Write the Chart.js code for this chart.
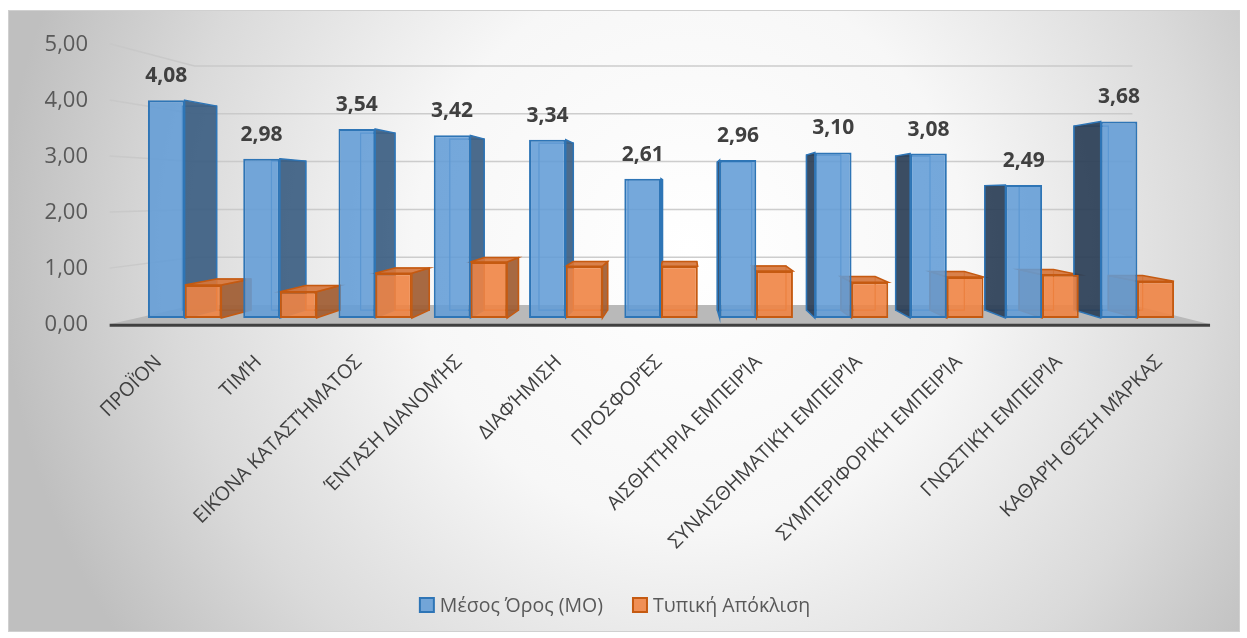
<!DOCTYPE html>
<html>
<head>
<meta charset="utf-8">
<script src="https://cdn.jsdelivr.net/npm/chart.js@4/dist/chart.umd.min.js"></script>
<style>
  html, body { margin: 0; padding: 0; background: #fff; }
  canvas { display: block; }
</style>
</head>
<body>
<canvas id="myChart" width="1247" height="638"></canvas>
<script>
// data
const categories = ['ΠΡΟΪΌΝ', 'ΤΙΜΉ', 'ΕΙΚΌΝΑ ΚΑΤΑΣΤΉΜΑΤΟΣ', 'ΈΝΤΑΣΗ ΔΙΑΝΟΜΉΣ', 'ΔΙΑΦΉΜΙΣΗ', 'ΠΡΟΣΦΟΡΈΣ',
  'ΑΙΣΘΗΤΉΡΙΑ ΕΜΠΕΙΡΊΑ', 'ΣΥΝΑΙΣΘΗΜΑΤΙΚΉ ΕΜΠΕΙΡΊΑ', 'ΣΥΜΠΕΡΙΦΟΡΙΚΉ ΕΜΠΕΙΡΊΑ', 'ΓΝΩΣΤΙΚΉ ΕΜΠΕΙΡΊΑ', 'ΚΑΘΑΡΉ ΘΈΣΗ ΜΆΡΚΑΣ'];
const meanValues = [4.08, 2.98, 3.54, 3.42, 3.34, 2.61, 2.96, 3.10, 3.08, 2.49, 3.68];
const sdValues = [0.62, 0.49, 0.84, 1.05, 0.97, 0.97, 0.88, 0.67, 0.77, 0.81, 0.69];
const seriesNames = ['Μέσος Όρος (ΜΟ)', 'Τυπική Απόκλιση'];
const yTicks = [0, 1, 2, 3, 4, 5];

const FONT = "'Open Sans', 'Noto Sans', sans-serif";
const fmt = v => v.toFixed(2).replace('.', ',');

// fake perspective, vanishing point + depth scales
const VP = { x: 684, y: 194 };
const S_BACK = 0.936;   // back of the bars
const S_WALL = 0.895;   // back wall
const S_FRONT = 1.05;   // front edge of floor / labels
const proj = (x, y, s) => [VP.x + (x - VP.x) * s, VP.y + (y - VP.y) * s];

const styles = [
  { front: 'rgba(98,156,214,0.88)', border: '#2e75b6', sideR: 'rgba(60,94,130,0.92)', sideL: 'rgba(42,62,86,0.92)', top: 'rgba(80,130,185,0.9)' },
  { front: 'rgba(240,132,68,0.9)', border: '#c55a11', sideR: 'rgba(160,92,50,0.92)', sideL: 'rgba(150,85,45,0.7)', top: 'rgba(214,118,60,0.92)' }
];

function poly(ctx, pts, fill, stroke, lw) {
  ctx.beginPath();
  ctx.moveTo(pts[0][0], pts[0][1]);
  for (let k = 1; k < pts.length; k++) ctx.lineTo(pts[k][0], pts[k][1]);
  ctx.closePath();
  if (fill) { ctx.fillStyle = fill; ctx.fill(); }
  if (stroke) { ctx.strokeStyle = stroke; ctx.lineWidth = lw || 1; ctx.stroke(); }
}

const box3d = {
  id: 'box3d',
  beforeDraw(chart) {
    const ctx = chart.ctx;
    const xs = chart.scales.x, ys = chart.scales.y;
    ctx.save();
    // background
    ctx.fillStyle = '#fff';
    ctx.fillRect(0, 0, chart.width, chart.height);
    const g = ctx.createRadialGradient(690, 250, 0, 690, 250, 690);
    g.addColorStop(0, '#ffffff');
    g.addColorStop(0.4, '#f7f7f7');
    g.addColorStop(0.75, '#dadada');
    g.addColorStop(1, '#bfbfbf');
    ctx.fillStyle = g;
    ctx.fillRect(8, 10, 1232, 622);
    ctx.strokeStyle = '#d0d0d0';
    ctx.lineWidth = 1;
    ctx.strokeRect(8.5, 10.5, 1231, 621);

    const L = xs.left, R = xs.right;
    // floor
    const base = ys.getPixelForValue(0);
    const fl = proj(L, base, S_FRONT), fr = proj(R, base, S_FRONT);
    const bl = proj(L, base, S_WALL), br = proj(R, base, S_WALL);
    poly(ctx, [fl, fr, br, bl], '#b9b9b9');
    ctx.beginPath();
    ctx.moveTo(fl[0], fl[1] + 1);
    ctx.lineTo(fr[0], fr[1] + 1);
    ctx.strokeStyle = '#404040';
    ctx.lineWidth = 3;
    ctx.stroke();

    // grid lines on side wall + back wall
    ctx.strokeStyle = 'rgba(200,200,200,0.9)';
    ctx.lineWidth = 1.5;
    yTicks.forEach(v => {
      if (v === 0) return;
      const py = ys.getPixelForValue(v);
      const a = proj(L, py, S_FRONT), b = proj(L, py, S_WALL), c = proj(R, py, S_WALL);
      ctx.beginPath();
      ctx.moveTo(a[0], a[1]);
      ctx.lineTo(b[0], b[1]);
      ctx.lineTo(c[0], c[1]);
      ctx.stroke();
    });

    // y tick labels
    ctx.fillStyle = '#595959';
    ctx.font = '22px ' + FONT;
    ctx.textAlign = 'right';
    ctx.textBaseline = 'middle';
    yTicks.forEach(v => {
      const p = proj(L, ys.getPixelForValue(v), S_FRONT);
      ctx.fillText(fmt(v), 88, p[1] + 1);
    });
    ctx.restore();
  },
  beforeDatasetsDraw(chart) {
    const ctx = chart.ctx;
    ctx.save();
    for (let i = 0; i < categories.length; i++) {
      for (let d = 0; d < 2; d++) {
        const bar = chart.getDatasetMeta(d).data[i];
        const st = styles[d];
        const l = bar.x - bar.width / 2, r = bar.x + bar.width / 2;
        const t = bar.y, b = bar.base;
        const lt = proj(l, t, S_BACK), rt = proj(r, t, S_BACK), lb = proj(l, b, S_BACK), rb = proj(r, b, S_BACK);
        // back edges, seen through the glass front
        poly(ctx, [lt, rt, rb, lb], null, st.border, 1.2);
        if (r < VP.x - 1) poly(ctx, [[r, t], rt, rb, [r, b]], st.sideR, st.border, 1.5);
        if (l > VP.x + 1) poly(ctx, [[l, t], lt, lb, [l, b]], st.sideL, st.border, 1.5);
        if (t > VP.y) poly(ctx, [[l, t], [r, t], rt, lt], st.top, st.border, 1.5);
      }
    }
    ctx.restore();
  },
  afterDatasetsDraw(chart) {
    const ctx = chart.ctx;
    const xs = chart.scales.x;
    ctx.save();
    // value labels on the mean bars
    ctx.fillStyle = '#404040';
    ctx.font = 'bold 21px ' + FONT;
    ctx.textAlign = 'center';
    ctx.textBaseline = 'middle';
    chart.getDatasetMeta(0).data.forEach((bar, i) => {
      ctx.fillText(fmt(meanValues[i]), bar.x, bar.y - 24);
    });

    // category labels, rotated
    ctx.fillStyle = '#404040';
    ctx.font = '19.5px ' + FONT;
    ctx.textAlign = 'right';
    ctx.textBaseline = 'middle';
    categories.forEach((c, i) => {
      const p = proj(xs.getPixelForValue(i), 318, S_FRONT);
      ctx.save();
      ctx.translate(p[0] - 1, 359);
      ctx.rotate(-Math.PI / 4);
      ctx.fillText(c, 0, 0);
      ctx.restore();
    });

    // legend
    ctx.font = '19.5px ' + FONT;
    const box = 14, gapTxt = 6, gapItem = 30;
    const widths = seriesNames.map(n => box + gapTxt + ctx.measureText(n).width);
    const total = widths[0] + gapItem + widths[1];
    let x = 615 - total / 2;
    const cy = 605;
    seriesNames.forEach((n, d) => {
      ctx.fillStyle = styles[d].front;
      ctx.fillRect(x, cy - box / 2, box, box);
      ctx.strokeStyle = styles[d].border;
      ctx.lineWidth = 2;
      ctx.strokeRect(x, cy - box / 2, box, box);
      ctx.fillStyle = '#595959';
      ctx.textAlign = 'left';
      ctx.fillText(n, x + box + gapTxt, cy + 1);
      x += widths[d] + gapItem;
    });
    ctx.restore();
  }
};

const ctx = document.getElementById('myChart').getContext('2d');
const myChart = new Chart(ctx, {
  type: 'bar',
  data: {
    labels: categories,
    datasets: [
      {
        label: seriesNames[0],
        data: meanValues,
        backgroundColor: styles[0].front,
        borderColor: styles[0].border,
        borderWidth: 2,
        borderSkipped: false,
        categoryPercentage: 0.77,
        barPercentage: 1.0
      },
      {
        label: seriesNames[1],
        data: sdValues,
        backgroundColor: styles[1].front,
        borderColor: styles[1].border,
        borderWidth: 2,
        borderSkipped: false,
        categoryPercentage: 0.77,
        barPercentage: 1.0
      }
    ]
  },
  options: {
    responsive: false,
    animation: false,
    devicePixelRatio: 1,
    layout: { padding: { left: 137, right: 62, top: 51, bottom: 320 } },
    scales: {
      x: { display: false },
      y: { display: false, min: 0, max: 5 }
    },
    plugins: {
      legend: { display: false },
      tooltip: { enabled: false }
    }
  },
  plugins: [box3d]
});
</script>
</body>
</html>
